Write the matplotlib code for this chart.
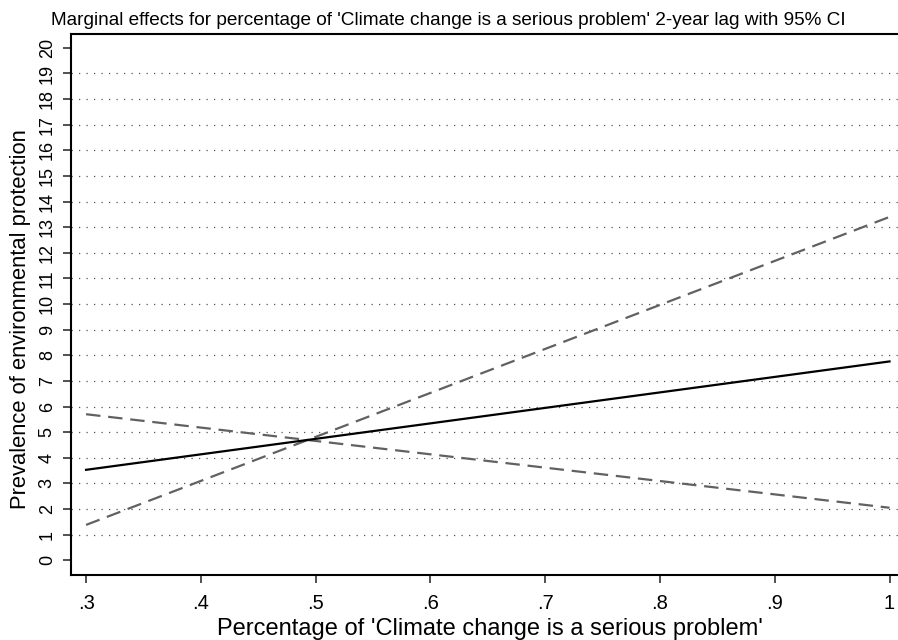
import matplotlib
matplotlib.use('Agg')
import matplotlib.pyplot as plt

plt.rcParams['font.family'] = ['Liberation Sans', 'DejaVu Sans']

x = [0.3, 1.0]  # percentage 'Climate change is a serious problem'
margin = [3.53, 7.76]  # marginal prediction
ci_upper = [1.38, 13.40]  # dashed line rising
ci_lower = [5.70, 2.05]  # dashed line falling

xticks = [0.3, 0.4, 0.5, 0.6, 0.7, 0.8, 0.9, 1.0]
xticklabels = ['.3', '.4', '.5', '.6', '.7', '.8', '.9', '1']
yticks = list(range(0, 21))

fig = plt.figure(figsize=(8.98, 6.4), dpi=100)
ax = fig.add_axes([0.0791, 0.1016, 0.9209, 0.8453])

for yv in range(1, 20):
    ax.axhline(yv, color='#555555', lw=0.9, linestyle=(0, (1, 5)), zorder=1)

ax.plot(x, ci_upper, color='#616161', lw=1.6, dashes=(6.5, 3.5), zorder=2)
ax.plot(x, ci_lower, color='#616161', lw=1.6, dashes=(6.5, 3.5), zorder=2)
ax.plot(x, margin, color='black', lw=1.6, zorder=3)

ax.set_xlim(0.2869, 1.0074)
ax.set_ylim(-0.574, 20.54)
ax.set_xticks(xticks)
ax.set_xticklabels(xticklabels, fontsize=14.5)
ax.set_yticks(yticks)
ax.set_yticklabels([str(v) for v in yticks], fontsize=13, rotation=90, va='center')
ax.tick_params(axis='x', length=6, width=1.2, color='#333333', pad=8)
ax.tick_params(axis='y', length=6, width=1.2, color='#333333', pad=5)

ax.spines['right'].set_visible(False)
for s in ['left', 'bottom', 'top']:
    ax.spines[s].set_linewidth(1.5)

fig.text(490 / 898, 5 / 640, "Percentage of 'Climate change is a serious problem'",
         fontsize=17, ha='center', va='baseline')
fig.text(21 / 898, 1 - 319 / 640, 'Prevalence of environmental protection',
         fontsize=15.8, rotation=90, ha='center', va='center')

fig.text(51 / 898, 1 - 25 / 640,
         "Marginal effects for percentage of 'Climate change is a serious problem' 2-year lag with 95% CI",
         fontsize=13.7, ha='left', va='baseline')

fig.savefig('out.png', dpi=100)
